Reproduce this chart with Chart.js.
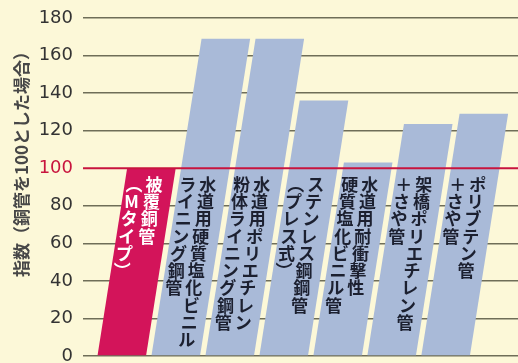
<!DOCTYPE html>
<html>
<head>
<meta charset="utf-8">
<script src="https://cdn.jsdelivr.net/npm/chart.js@4"></script>
<style>
	html, body { margin: 0; padding: 0; background: #fcf8d8; }
	#wrap { width: 518px; height: 363px; }
</style>
</head>
<body>
<div id="wrap"><canvas id="chart"></canvas></div>
<script>
'use strict';

// each label is written vertically, columns right to left
const labelColumns = [
	['被覆銅管', '（Mタイプ）'],
	['水道用硬質塩化ビニル', 'ライニング鋼管'],
	['水道用ポリエチレン', '粉体ライニング鋼管'],
	['ステンレス鋼鋼管', '（プレス式）'],
	['水道用耐衝撃性', '硬質塩化ビニル管'],
	['架橋ポリエチレン管', '＋さや管'],
	['ポリブテン管', '＋さや管']
];
const categories = labelColumns.map(c => c.join(''));
const values = [100, 169, 169, 136, 103, 123.5, 129];
const barColors = ['#d3145a', '#a9bad8', '#a9bad8', '#a9bad8', '#a9bad8', '#a9bad8', '#a9bad8'];
const textColors = ['#ffffff', '#1c2030', '#1c2030', '#1c2030', '#1c2030', '#1c2030', '#1c2030'];
const yMin = 0;
const yMax = 180;
const yStep = 20;
const referenceValue = 100;
const yTitle = '指数（銅管を100とした場合）';

const slant = 0.158; // bars lean right: px of shift per px of height
const textSlant = 0.135;
const red = '#c8143e';

const verticalForms = { '（': '\uFE35', '）': '\uFE36' };

const slantedBars = {
	id: 'slantedBars',
	beforeDatasetDraw(chart, args) {
		const ctx = chart.ctx;
		const area = chart.chartArea;
		const yScale = chart.scales.y;
		args.meta.data.forEach(function (bar, i) {
			const left = bar.x - bar.width / 2;
			const right = bar.x + bar.width / 2;
			const shift = slant * (bar.base - bar.y);
			ctx.save();
			ctx.fillStyle = barColors[i];
			ctx.beginPath();
			ctx.moveTo(left, bar.base);
			ctx.lineTo(right, bar.base);
			ctx.lineTo(right + shift, bar.y);
			ctx.lineTo(left + shift, bar.y);
			ctx.closePath();
			ctx.fill();
			ctx.restore();
		});

		// reference line at 100, on top of the bars
		const yRef = yScale.getPixelForValue(referenceValue);
		ctx.save();
		ctx.strokeStyle = red;
		ctx.lineWidth = 2;
		ctx.beginPath();
		ctx.moveTo(area.left, yRef);
		ctx.lineTo(area.right, yRef);
		ctx.stroke();
		ctx.restore();

		// vertical labels inside the bars
		const step = 17.3;
		const startY = yRef + 16;
		ctx.save();
		ctx.font = 'bold 17px "Noto Sans CJK JP"';
		ctx.textAlign = 'center';
		ctx.textBaseline = 'middle';
		args.meta.data.forEach(function (bar, i) {
			ctx.fillStyle = textColors[i];
			const yTop = startY;
			const xTop = bar.x + slant * (bar.base - yTop);
			labelColumns[i].forEach(function (col, c) {
				const offset = 5 - c * 20;
				Array.from(col).forEach(function (ch, k) {
					const y = startY + k * step;
					const x = xTop + offset - textSlant * (y - yTop);
					ctx.fillText(verticalForms[ch] || ch, x, y);
				});
			});
		});
		ctx.restore();
		return false;
	},
	afterDraw(chart) {
		const ctx = chart.ctx;
		ctx.save();
		ctx.translate(22, 160);
		ctx.rotate(-Math.PI / 2);
		ctx.font = 'bold 17px "Noto Sans CJK JP"';
		ctx.fillStyle = '#474747';
		ctx.textAlign = 'center';
		ctx.textBaseline = 'middle';
		ctx.fillText(yTitle, 0, 0);
		ctx.restore();
	}
};

new Chart(document.getElementById('chart'), {
	type: 'bar',
	data: {
		labels: categories,
		datasets: [{
			data: values.map((v, i) => ({ x: i, y: v })),
			backgroundColor: barColors,
			categoryPercentage: 0.9,
			barPercentage: 1
		}]
	},
	options: {
		responsive: true,
		maintainAspectRatio: false,
		animation: false,
		layout: {
			padding: { left: 38, right: 0, top: 18, bottom: 7 }
		},
		plugins: {
			legend: { display: false },
			tooltip: { enabled: false }
		},
		scales: {
			x: {
				type: 'linear',
				display: false,
				offset: false,
				min: -0.72,
				max: 7.34
			},
			y: {
				min: yMin,
				max: yMax,
				border: { display: false },
				grid: {
					color: (context) => context.tick && context.tick.value === referenceValue ? 'rgba(0,0,0,0)' : '#6f6e58',
					lineWidth: 1.5,
					drawTicks: false
				},
				ticks: {
					stepSize: yStep,
					padding: 10,
					color: (context) => context.tick && context.tick.value === referenceValue ? red : '#333333',
					font: { family: '"DejaVu Sans"', size: 18 }
				},
				afterFit: (scale) => {
					scale.width = 45;
					scale.paddingTop = 0;
					scale.paddingBottom = 0;
				}
			}
		}
	},
	plugins: [slantedBars]
});
</script>
</body>
</html>
